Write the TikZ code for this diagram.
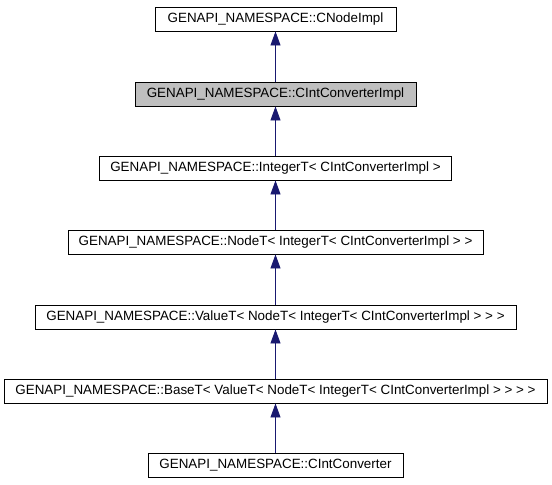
\documentclass[tikz,border=0pt]{standalone}
\usepackage{fontspec}
\setmainfont{Liberation Sans}
\usetikzlibrary{arrows.meta}
\definecolor{edgeblue}{HTML}{191970}
\definecolor{boxgray}{HTML}{BFBFBF}
\tikzset{
  x=1pt, y=1pt,
  cls/.style={draw=black, line width=0.9pt, fill=white, minimum height=24pt, inner sep=0pt, font=\fontsize{13.4}{14}\selectfont},
  cur/.style={cls, fill=boxgray},
  inh/.style={draw=edgeblue, line width=0.9pt, -{Triangle[length=14pt,width=10pt]}}
}
\begin{document}
\begin{tikzpicture}
\useasboundingbox (0,0) rectangle (552,-485);
\node[cls, minimum width=241pt] (n1) at (275.5,-19) {GENAPI\_NAMESPACE::CNodeImpl};
\node[cur, minimum width=281pt] (n2) at (275.5,-94) {GENAPI\_NAMESPACE::CIntConverterImpl};
\node[cls, minimum width=352pt] (n3) at (275.5,-168) {GENAPI\_NAMESPACE::IntegerT< CIntConverterImpl >};
\node[cls, minimum width=415pt] (n4) at (275.5,-242) {GENAPI\_NAMESPACE::NodeT< IntegerT< CIntConverterImpl > >};
\node[cls, minimum width=481pt] (n5) at (275.5,-317) {GENAPI\_NAMESPACE::ValueT< NodeT< IntegerT< CIntConverterImpl > > >};
\node[cls, minimum width=543pt] (n6) at (275.5,-391) {GENAPI\_NAMESPACE::BaseT< ValueT< NodeT< IntegerT< CIntConverterImpl > > > >};
\node[cls, minimum width=255pt] (n7) at (275.5,-465) {GENAPI\_NAMESPACE::CIntConverter};
\draw[inh] (n2.north) -- (n1.south);
\draw[inh] (n3.north) -- (n2.south);
\draw[inh] (n4.north) -- (n3.south);
\draw[inh] (n5.north) -- (n4.south);
\draw[inh] (n6.north) -- (n5.south);
\draw[inh] (n7.north) -- (n6.south);
\end{tikzpicture}
\end{document}
